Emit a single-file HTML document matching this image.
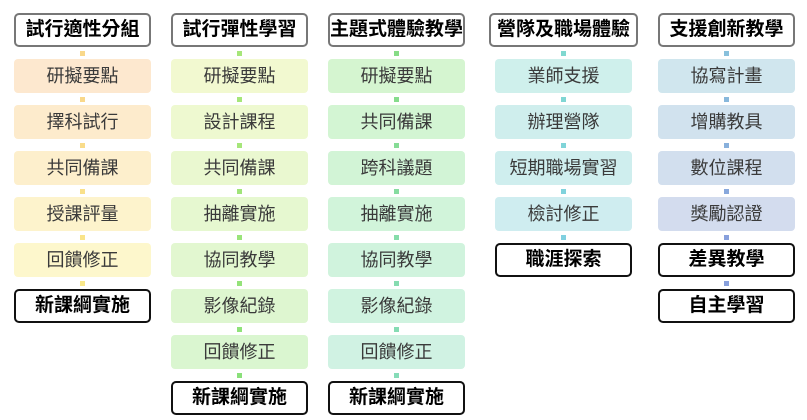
<!DOCTYPE html>
<html><head><meta charset="utf-8"><style>
body{margin:0;width:807px;height:420px;background:#fff;position:relative;overflow:hidden;font-family:"Liberation Sans","Noto Sans CJK TC",sans-serif}
.b{position:absolute;height:34px;line-height:34px;text-align:center;font-size:18px;color:#3a3a3a;border-radius:4px;box-sizing:border-box;white-space:nowrap}
.h{border:2px solid #777;background:#fff;color:#000;font-weight:bold;font-size:19px;border-radius:5px;line-height:30px}
.f{border:2px solid #111;background:#fff;color:#000;font-weight:bold;font-size:19px;border-radius:5px;line-height:30px}
.d{position:absolute;width:5px;height:5px}
</style></head><body>
<!-- col1 -->
<div class="b h" style="left:14px;top:13px;width:137px">試行適性分組</div>
<div class="b" style="left:14px;top:59px;width:137px;background:#fde8cf">研擬要點</div>
<div class="b" style="left:14px;top:105px;width:137px;background:#fdebcc">擇科試行</div>
<div class="b" style="left:14px;top:151px;width:137px;background:#fdefcc">共同備課</div>
<div class="b" style="left:14px;top:197px;width:137px;background:#fdf3cc">授課評量</div>
<div class="b" style="left:14px;top:243px;width:137px;background:#fdf7cc">回饋修正</div>
<div class="b f" style="left:14px;top:289px;width:137px">新課綱實施</div>
<div class="d" style="left:80px;top:51px;background:#f9d88a"></div>
<div class="d" style="left:80px;top:97px;background:#f9d88a"></div>
<div class="d" style="left:80px;top:143px;background:#f9dc8a"></div>
<div class="d" style="left:80px;top:189px;background:#f9e08a"></div>
<div class="d" style="left:80px;top:235px;background:#f9e48a"></div>
<div class="d" style="left:80px;top:281px;background:#f9e88a"></div>
<!-- col2 -->
<div class="b h" style="left:171px;top:13px;width:137px">試行彈性學習</div>
<div class="b" style="left:171px;top:59px;width:137px;background:#f2f9d0">研擬要點</div>
<div class="b" style="left:171px;top:105px;width:137px;background:#eef9d0">設計課程</div>
<div class="b" style="left:171px;top:151px;width:137px;background:#eaf8d0">共同備課</div>
<div class="b" style="left:171px;top:197px;width:137px;background:#e6f8d0">抽離實施</div>
<div class="b" style="left:171px;top:243px;width:137px;background:#e2f7d0">協同教學</div>
<div class="b" style="left:171px;top:289px;width:137px;background:#def6d0">影像紀錄</div>
<div class="b" style="left:171px;top:335px;width:137px;background:#daf6d0">回饋修正</div>
<div class="b f" style="left:171px;top:381px;width:137px">新課綱實施</div>
<div class="d" style="left:237px;top:51px;background:#a6e67a"></div>
<div class="d" style="left:237px;top:97px;background:#a6e67a"></div>
<div class="d" style="left:237px;top:143px;background:#a6e67a"></div>
<div class="d" style="left:237px;top:189px;background:#a0e47a"></div>
<div class="d" style="left:237px;top:235px;background:#9ae47a"></div>
<div class="d" style="left:237px;top:281px;background:#94e27a"></div>
<div class="d" style="left:237px;top:327px;background:#90e27a"></div>
<div class="d" style="left:237px;top:373px;background:#8ae07a"></div>
<!-- col3 -->
<div class="b h" style="left:328px;top:13px;width:137px">主題式體驗教學</div>
<div class="b" style="left:328px;top:59px;width:137px;background:#d5f5d0">研擬要點</div>
<div class="b" style="left:328px;top:105px;width:137px;background:#d3f5d3">共同備課</div>
<div class="b" style="left:328px;top:151px;width:137px;background:#d2f4d6">跨科議題</div>
<div class="b" style="left:328px;top:197px;width:137px;background:#d1f4da">抽離實施</div>
<div class="b" style="left:328px;top:243px;width:137px;background:#d0f3dd">協同教學</div>
<div class="b" style="left:328px;top:289px;width:137px;background:#d0f3e0">影像紀錄</div>
<div class="b" style="left:328px;top:335px;width:137px;background:#d0f2e3">回饋修正</div>
<div class="b f" style="left:328px;top:381px;width:137px">新課綱實施</div>
<div class="d" style="left:394px;top:51px;background:#86dc86"></div>
<div class="d" style="left:394px;top:97px;background:#86dc8c"></div>
<div class="d" style="left:394px;top:143px;background:#86dc96"></div>
<div class="d" style="left:394px;top:189px;background:#86dca0"></div>
<div class="d" style="left:394px;top:235px;background:#86dcaa"></div>
<div class="d" style="left:394px;top:281px;background:#86dcb0"></div>
<div class="d" style="left:394px;top:327px;background:#86dcb4"></div>
<div class="d" style="left:394px;top:373px;background:#86dcb8"></div>
<!-- col4 -->
<div class="b h" style="left:489px;top:13px;width:149px">營隊及職場體驗</div>
<div class="b" style="left:495px;top:59px;width:137px;background:#cff0ec">業師支援</div>
<div class="b" style="left:495px;top:105px;width:137px;background:#cfeeed">辦理營隊</div>
<div class="b" style="left:495px;top:151px;width:137px;background:#cfeeee">短期職場實習</div>
<div class="b" style="left:495px;top:197px;width:137px;background:#cfedf0">檢討修正</div>
<div class="b f" style="left:495px;top:243px;width:137px">職涯探索</div>
<div class="d" style="left:561px;top:51px;background:#80d8d0"></div>
<div class="d" style="left:561px;top:97px;background:#80d6d4"></div>
<div class="d" style="left:561px;top:143px;background:#80d4d8"></div>
<div class="d" style="left:561px;top:189px;background:#80d2dc"></div>
<div class="d" style="left:561px;top:235px;background:#80d0e0"></div>
<!-- col5 -->
<div class="b h" style="left:658px;top:13px;width:137px">支援創新教學</div>
<div class="b" style="left:658px;top:59px;width:137px;background:#d0e6ee">協寫計畫</div>
<div class="b" style="left:658px;top:105px;width:137px;background:#d1e2ee">增購教具</div>
<div class="b" style="left:658px;top:151px;width:137px;background:#d2dfee">數位課程</div>
<div class="b" style="left:658px;top:197px;width:137px;background:#d3dcee">獎勵認證</div>
<div class="b f" style="left:658px;top:243px;width:137px">差異教學</div>
<div class="b f" style="left:658px;top:289px;width:137px">自主學習</div>
<div class="d" style="left:724px;top:51px;background:#88c0dc"></div>
<div class="d" style="left:724px;top:97px;background:#88b8dc"></div>
<div class="d" style="left:724px;top:143px;background:#88b0dc"></div>
<div class="d" style="left:724px;top:189px;background:#88a8dc"></div>
<div class="d" style="left:724px;top:235px;background:#88a0dc"></div>
<div class="d" style="left:724px;top:281px;background:#88a0dc"></div>
</body></html>
